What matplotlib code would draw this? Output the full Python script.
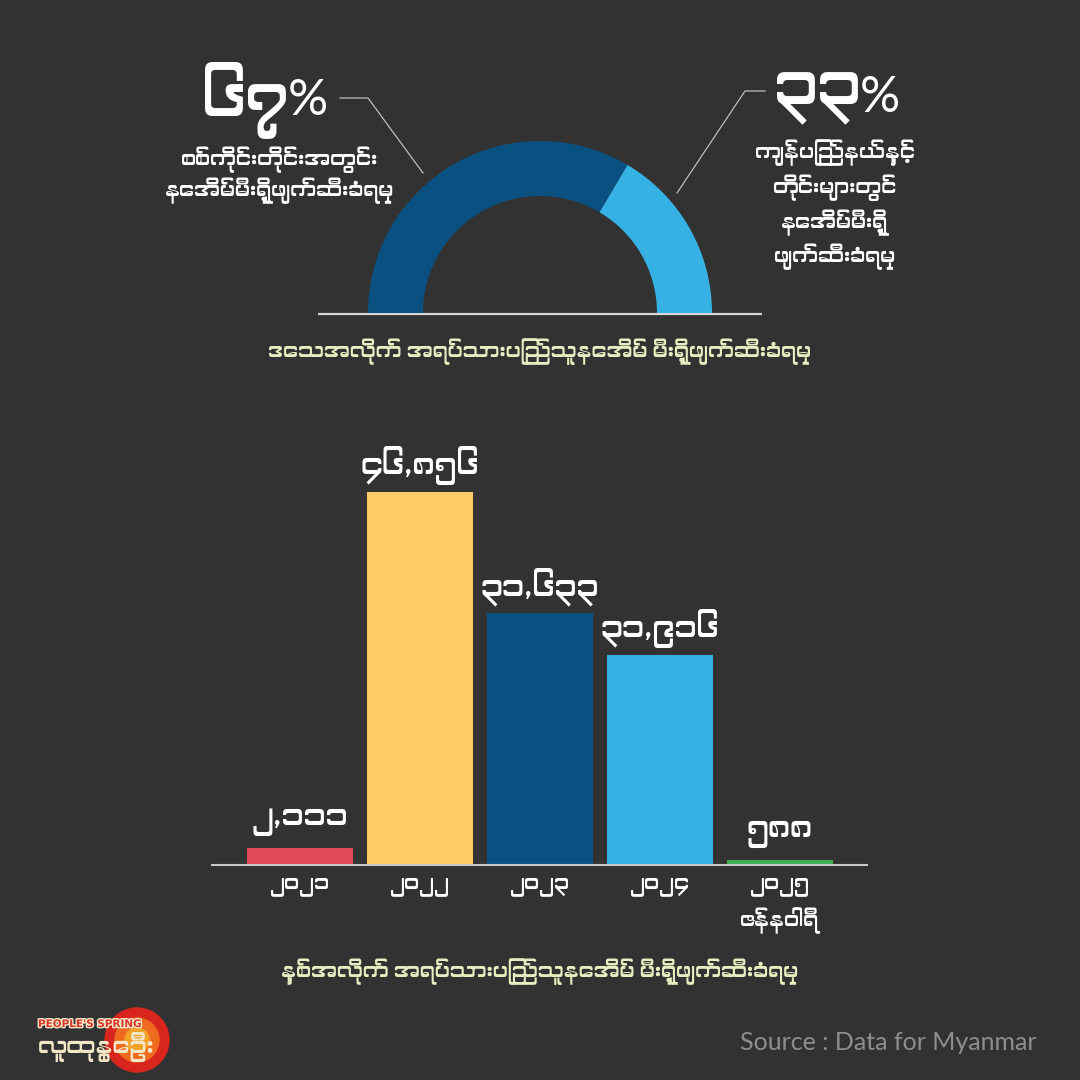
import matplotlib
matplotlib.use("Agg")
import matplotlib.pyplot as plt
from matplotlib import font_manager as fm
from matplotlib.patches import Circle
import matplotlib.patheffects as pe

# ---------------- data ----------------
region_labels = ["စစ်ကိုင်းတိုင်းအတွင်း\nနေအိမ်မီးရှို့ဖျက်ဆီးခံရမှု",
                 "ကျန်ပြည်နယ်နှင့်\nတိုင်းများတွင်\nနေအိမ်မီးရှို့\nဖျက်ဆီးခံရမှု"]
region_share = [67, 33]
region_share_text = ["၆၇", "၃၃"]
donut_title = "ဒေသအလိုက် အရပ်သားပြည်သူနေအိမ် မီးရှို့ဖျက်ဆီးခံရမှု"

years = ["၂၀၂၁", "၂၀၂၂", "၂၀၂၃", "၂၀၂၄", "၂၀၂၅\nဇန်နဝါရီ"]
houses = [2111, 46856, 31633, 26400, 588]
house_labels = ["၂,၁၁၁", "၄၆,၈၅၆", "၃၁,၆၃၃", "၃၁,၉၁၆", "၅၈၈"]
bar_title = "နှစ်အလိုက် အရပ်သားပြည်သူနေအိမ် မီးရှို့ဖျက်ဆီးခံရမှု"
source_text = "Source : Data for Myanmar"

# ---------------- style ----------------
BG = "#323232"
DARK_BLUE = "#0A5181"
LIGHT_BLUE = "#35B2E3"
BAR_COLORS = ["#E04B5A", "#FECB65", "#0A5181", "#35B2E3", "#3FAE4E"]
PALE = "#E7EDC0"
WHITE = "#FFFFFF"


def find_myanmar_fonts():
    found = []
    for f in fm.fontManager.ttflist:
        if any(k in f.name for k in ("Myanmar", "Padauk", "Pyidaungsu", "Zawgyi", "Masterpiece")):
            if f.name not in found:
                found.append(f.name)
    if found:
        return found
    try:
        from fontTools.ttLib import TTFont
    except Exception:
        return found
    for f in fm.fontManager.ttflist:
        if f.name in found:
            continue
        try:
            t = TTFont(f.fname, fontNumber=0, lazy=True)
            cmap = t.getBestCmap()
            if cmap and 0x1000 in cmap and 0x1041 in cmap:
                found.append(f.name)
        except Exception:
            pass
    return found


mm = find_myanmar_fonts()
FAM = (mm[:1] if mm else []) + ["DejaVu Sans"]
plt.rcParams["font.family"] = FAM
REG = "normal"

fig = plt.figure(figsize=(10.8, 10.8), dpi=100, facecolor=BG)

# base axes in pixel coordinates for free text
ax0 = fig.add_axes([0, 0, 1, 1])
ax0.set_xlim(0, 1080)
ax0.set_ylim(1080, 0)
ax0.axis("off")
ax0.set_facecolor(BG)

# ---------------- half donut ----------------
cx, cy, R = 540, 313, 172
axd = fig.add_axes([(cx - R) / 1080, 1 - (cy + R) / 1080, 2 * R / 1080, 2 * R / 1080])
axd.pie(region_share + [sum(region_share)], startangle=180, counterclock=False,
        colors=[DARK_BLUE, LIGHT_BLUE, "none"], radius=1,
        wedgeprops=dict(width=55 / 172, linewidth=0))
axd.set_xlim(-1, 1)
axd.set_ylim(-1, 1)
axd.axis("off")

# baseline under donut
ax0.plot([318, 762], [314, 314], color="#D6D6D6", lw=1.6, solid_capstyle="butt")

# leader lines
ax0.plot([340, 368, 423], [98, 98, 173], color="#BDBDBD", lw=0.9)
ax0.plot([677, 745, 765], [193, 91, 91], color="#BDBDBD", lw=0.9)

# percentages
ax0.text(290, 100, region_share_text[0], ha="right", va="center", color=WHITE,
         fontsize=44, fontweight="bold")
ax0.text(288, 101, "%", ha="left", va="center", color=WHITE, fontsize=36,
         family=["Lato", "DejaVu Sans"], fontweight="normal")
ax0.text(862, 97, region_share_text[1], ha="right", va="center", color=WHITE,
         fontsize=44, fontweight="bold")
ax0.text(860, 98, "%", ha="left", va="center", color=WHITE, fontsize=36,
         family=["Lato", "DejaVu Sans"], fontweight="normal")

ax0.text(280, 175, region_labels[0], ha="center", va="center", color=WHITE,
         fontsize=15, linespacing=1.25, fontweight=REG)
ax0.text(835, 205, region_labels[1], ha="center", va="center", color=WHITE,
         fontsize=15, linespacing=1.45, fontweight=REG)

ax0.text(540, 352, donut_title, ha="center", va="center", color=PALE, fontsize=15,
         fontweight=REG)

# ---------------- bar chart ----------------
y_base, y_top = 865, 440
ymax = houses[1] * (y_base - y_top) / (y_base - 492)
axb = fig.add_axes([212 / 1080, (1080 - y_base) / 1080, 655 / 1080, (y_base - y_top) / 1080])
axb.set_facecolor("none")
xs = list(range(len(houses)))
axb.bar(xs, houses, width=0.89, color=BAR_COLORS, linewidth=0)
axb.set_xlim(-88 / 120, (867 - 300) / 120)
axb.set_ylim(0, ymax)
for s in ("top", "right", "left"):
    axb.spines[s].set_visible(False)
axb.spines["bottom"].set_color("#C8C8C8")
axb.spines["bottom"].set_linewidth(1.5)
axb.set_yticks([])
axb.set_xticks(xs)
axb.set_xticklabels(years, color=WHITE, fontsize=15, linespacing=1.6, va="top",
                    fontweight=REG)
axb.tick_params(axis="x", length=0, pad=9)

for x, v, lab in zip(xs, houses, house_labels):
    axb.annotate(lab, xy=(x, v), xytext=(0, 19), textcoords="offset points",
                 ha="center", va="center", color=WHITE, fontsize=22, fontweight="bold")

ax0.text(540, 972, bar_title, ha="center", va="center", color=PALE, fontsize=15,
         fontweight=REG)

# ---------------- source & logo ----------------
ax0.text(1037, 1042, source_text, ha="right", va="center", color="#8E8E8E",
         fontsize=18, family=["Lato", "DejaVu Sans"])

ax0.add_patch(Circle((137, 1040), 32, color="#D8261E", zorder=2))
ax0.add_patch(Circle((137, 1040), 22, color="#EE6A1E", zorder=2))
ax0.add_patch(Circle((137, 1040), 12, color="#F4A22A", zorder=2))
ax0.text(38, 1024, "PEOPLE'S SPRING", ha="left", va="center", color="#D8372C",
         fontsize=7.5, fontweight="bold", family=["DejaVu Sans"], zorder=3,
         path_effects=[pe.withStroke(linewidth=2, foreground="#F3E6C6")])
ax0.text(38, 1047, "လူထုနွေဦး", ha="left", va="center", color="#F3E6C6",
         fontsize=17, fontweight="bold", zorder=3)

fig.savefig("out.png", dpi=100, facecolor=BG)
